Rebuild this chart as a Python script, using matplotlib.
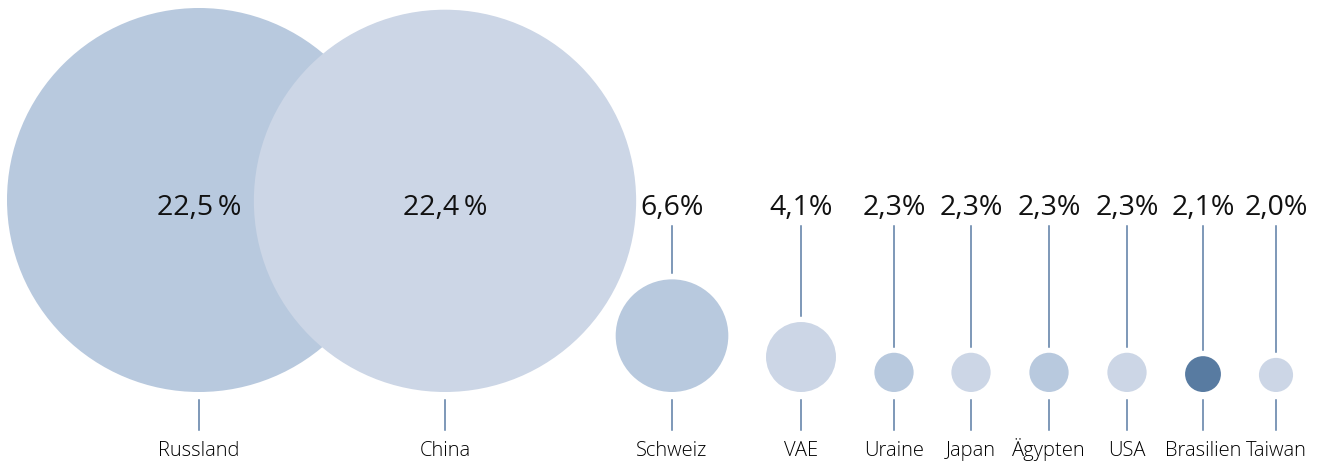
import matplotlib
matplotlib.use("Agg")
import matplotlib.pyplot as plt
from matplotlib.patches import Circle

countries = ["Russland", "China", "Schweiz", "VAE", "Uraine", "Japan", "Ägypten", "USA", "Brasilien", "Taiwan"]
values = [22.5, 22.4, 6.6, 4.1, 2.3, 2.3, 2.3, 2.3, 2.1, 2.0]
value_labels = ["22,5\u2009%", "22,4\u2009%", "6,6%", "4,1%", "2,3%", "2,3%",
                "2,3%", "2,3%", "2,1%", "2,0%"]

# layout (pixel coordinates)
x_pos = [199, 445, 672, 801, 894, 971, 1049, 1127, 1203, 1276]
MID, LIGHT, DARK = "#b8c9de", "#ccd6e6", "#587ba1"
colors = [MID, LIGHT, MID, LIGHT, MID, LIGHT, MID, LIGHT, DARK, LIGHT]
LINE = "#5a7ca4"

W, H = 1326, 461
fig = plt.figure(figsize=(W / 100, H / 100), dpi=100)
ax = fig.add_axes([0, 0, 1, 1])
ax.set_xlim(0, W)
ax.set_ylim(H, 0)
ax.set_aspect("equal")
ax.axis("off")

k = 192 / 22.5
bottom = 392
fam = ["Open Sans", "DejaVu Sans"]

for c, v, vl, x, col in zip(countries, values, value_labels, x_pos, colors):
    r = k * v
    cy = bottom - r
    ax.add_patch(Circle((x, cy), r, facecolor=col, edgecolor="none", zorder=1))
    ax.text(x, 215, vl, ha="center", va="baseline", fontsize=20.5, family=fam,
            fontweight="normal", color="#111111", zorder=3)
    if cy - r > 240:
        ax.plot([x, x], [226, cy - r - 6], color=LINE, lw=1.1, zorder=2)
    ax.plot([x, x], [400, 430], color=LINE, lw=1.1, zorder=2)
    ax.text(x, 456, c, ha="center", va="baseline", fontsize=14.5, family=fam,
            fontweight="light", color="black", zorder=3)

fig.savefig("out.png", dpi=100)
